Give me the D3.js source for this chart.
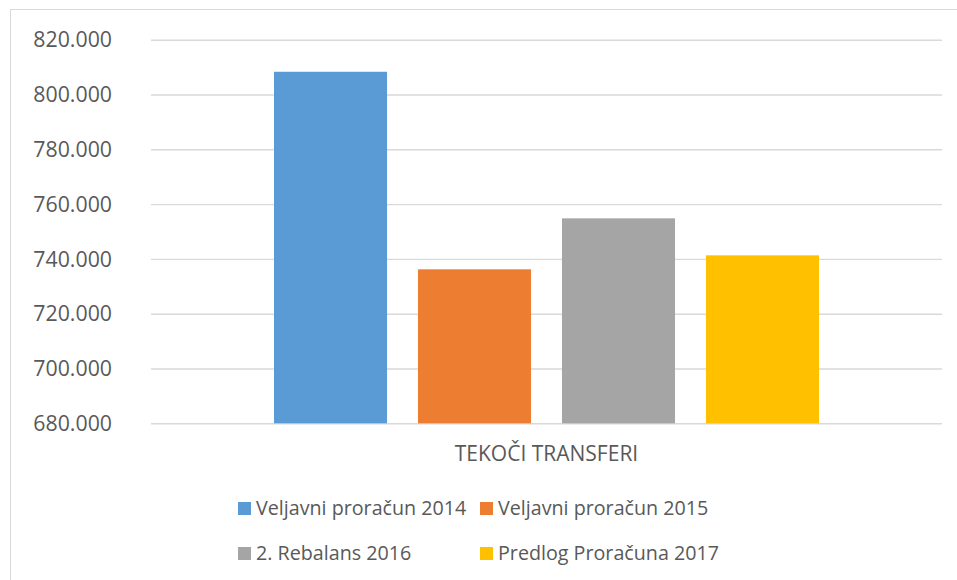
<!DOCTYPE html>
<html><head><meta charset="utf-8">
<script src="https://cdn.jsdelivr.net/npm/d3@7"></script>
<style>body{margin:0;background:#fff}svg{display:block}text{font-family:"Open Sans",sans-serif;fill:#595959}</style>
</head><body>
<svg id="c" width="957" height="580"></svg>
<script>
const categories = ["TEKOČI TRANSFERI"];
const seriesNames = ["Veljavni proračun 2014","Veljavni proračun 2015","2. Rebalans 2016","Predlog Proračuna 2017"];
const seriesValues = [808300, 736200, 754800, 741300];
const seriesColors = ["#5B9BD5","#ED7D31","#A5A5A5","#FFC000"];
const yTicks = [680000,700000,720000,740000,760000,780000,800000,820000];

const svg = d3.select("#c");
svg.append("rect").attr("x",10.5).attr("y",9.5).attr("width",1000).attr("height",700)
  .attr("fill","none").attr("stroke","#d9d9d9").attr("stroke-width",1);

const plot = {left:151, right:942, top:39.7, bottom:423.3};
const y = d3.scaleLinear().domain([680000,820000]).range([plot.bottom, plot.top]);
const x0 = d3.scaleBand().domain(categories).range([plot.left, plot.right]).paddingInner(0).paddingOuter(0.2257);
const x1 = d3.scaleBand().domain(seriesNames).range([0, x0.bandwidth()]).paddingInner(0.215).paddingOuter(0);

const fmt = v => d3.format(",.0f")(v/1000).replace(/,/g,".") + ".000";

const yAxis = d3.axisLeft(y).tickValues(yTicks).tickSize(-(plot.right-plot.left)).tickPadding(39).tickFormat(fmt);
const ga = svg.append("g").attr("transform",`translate(${plot.left},0)`).call(yAxis);
ga.select(".domain").remove();
ga.selectAll(".tick line").attr("stroke","#d9d9d9").attr("stroke-width",1.4);
ga.selectAll(".tick text").attr("font-size",21.3).attr("font-family","Open Sans").attr("fill","#595959").attr("dy","0.34em");

const g = svg.append("g");
categories.forEach((c,ci)=>{
  g.selectAll(null).data(seriesNames).enter().append("rect")
    .attr("x",d=>x0(c)+x1(d))
    .attr("width",x1.bandwidth())
    .attr("y",(d,i)=>y(seriesValues[i]))
    .attr("height",(d,i)=>plot.bottom-y(seriesValues[i]))
    .attr("fill",(d,i)=>seriesColors[i]);
  svg.append("text").attr("x",x0(c)+x0.bandwidth()/2).attr("y",454).attr("dy","0.35em")
    .attr("text-anchor","middle").attr("font-size",21).text(c);
});

const legendPos = [[238,508.5],[480,508.5],[238,553.5],[480,553.5]];
const lg = svg.append("g");
seriesNames.forEach((s,i)=>{
  const [lx,ly] = legendPos[i];
  lg.append("rect").attr("x",lx).attr("y",ly-6.5).attr("width",13).attr("height",13).attr("fill",seriesColors[i]);
  lg.append("text").attr("x",lx+18).attr("y",ly).attr("dy","0.35em").attr("font-size",19.7).text(s);
});
</script>
</body></html>
